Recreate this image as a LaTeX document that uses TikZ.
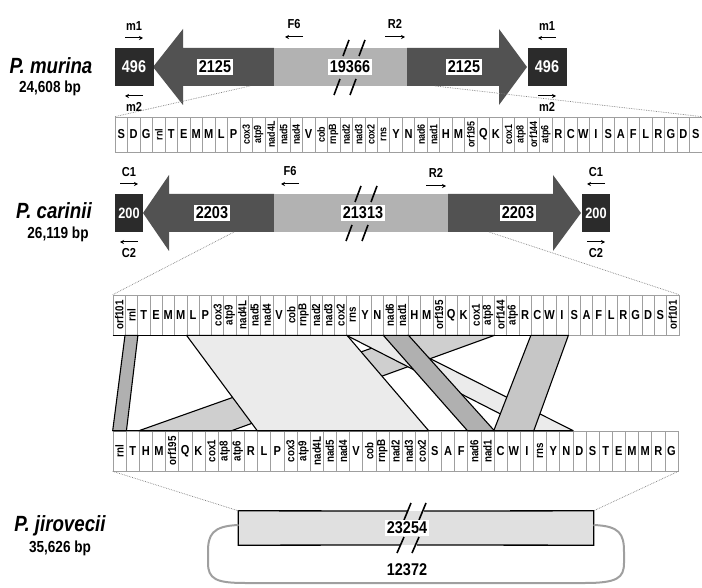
\documentclass[tikz,border=0pt]{standalone}
\usepackage{fontspec}
\setmainfont{Liberation Sans}[FakeStretch=0.85]
\usepackage{graphicx}
\usetikzlibrary{arrows.meta,calc,positioning}

\def\genrot{11}
\def\genelab#1{\expandafter\genelabx#1\relax\genend}
\def\genelabx#1#2\genend{\ifx\relax#2#1\else\rotatebox{90}{\fontsize{\genrot}{\genrot}\selectfont#1#2}\fi}

\tikzset{
  cellbox/.style={draw=gray!75,line width=0.6pt,fill=white,inner sep=0pt,font=\bfseries\fontsize{13}{13}\selectfont},
  endbox/.style={fill=black!83,text=white,inner sep=0pt,font=\bfseries\fontsize{17}{17}\selectfont},
  darkarm/.style={fill=black!68},
  lightmid/.style={fill=black!30},
  numlab/.style={fill=white,inner sep=1.5pt,font=\bfseries\fontsize{17}{17}\selectfont},
  primer/.style={inner sep=0pt,font=\bfseries\fontsize{13}{13}\selectfont},
  primarrow/.style={line width=1pt,-{Stealth[length=4pt,width=4pt]}},
  brk/.style={line width=1.6pt},
  zoomline/.style={densely dotted,gray,line width=0.7pt},
  rib/.style={draw=black,line width=1.1pt,line join=round},
  species/.style={inner sep=0pt,font=\bfseries\itshape\fontsize{22}{22}\selectfont},
  bplab/.style={inner sep=0pt,font=\bfseries\fontsize{16}{16}\selectfont},
  loopline/.style={draw=gray!75,line width=2pt}
}

\begin{document}
\begin{tikzpicture}[x=1pt,y=-1pt]
\useasboundingbox (0,0) rectangle (702,588);

\node[species] (pmname) at (51,66) {P. murina};
\node[bplab] (pmbp) at (50,88) {24,608 bp};
\node[species] (pcname) at (54,211) {P. carinii};
\node[bplab] (pcbp) at (58,234) {26,119 bp};
\node[species] (pjname) at (60,526) {P. jirovecii};
\node[bplab] (pjbp) at (60,548) {35,626 bp};

\fill[darkarm] (153,67) -- (183,29) -- (183,48) -- (274,48) -- (274,86) -- (183,86) -- (183,105) -- cycle;
\fill[lightmid] (274,48) rectangle (407,86);
\fill[darkarm] (407,48) -- (499,48) -- (499,29) -- (527,67) -- (499,105) -- (499,86) -- (407,86) -- cycle;
\node[endbox,minimum width=39pt,minimum height=38pt] (pmL) at (134,67) {496};
\node[endbox,minimum width=39pt,minimum height=38pt] (pmR) at (547,67) {496};
\draw[brk] (343,56) -- (349,40) (359,56) -- (365,40);
\draw[brk] (334,95) -- (340,79) (350,95) -- (356,79);
\node[numlab] (pmA) at (215,67) {2125};
\node[numlab] (pmB) at (350,67) {19366};
\node[numlab] (pmC) at (464,67) {2125};
\node[primer] (pmm1a) at (134,26) {m1};
\node[primer] (pmm2a) at (134,107) {m2};
\node[primer] (pmm1b) at (547,26) {m1};
\node[primer] (pmm2b) at (547,107) {m2};
\node[primer] (pmF6) at (294,24) {F6};
\node[primer] (pmR2) at (395,24) {R2};
\draw[primarrow] ($(pmm1a)+(-9,12)$) -- ++(18,0);
\draw[primarrow] ($(pmm2a)+(9,-11)$) -- ++(-18,0);
\draw[primarrow] ($(pmm1b)+(9,12)$) -- ++(-18,0);
\draw[primarrow] ($(pmm2b)+(-9,-11)$) -- ++(18,0);
\draw[primarrow] ($(pmF6)+(9,13)$) -- ++(-18,0);
\draw[primarrow] ($(pmR2)+(-10,13)$) -- ++(20,0);

\fill[darkarm] (143,213) -- (169,175) -- (169,194) -- (274,194) -- (274,232) -- (169,232) -- (169,251) -- cycle;
\fill[lightmid] (274,194) rectangle (448,232);
\fill[darkarm] (448,194) -- (553,194) -- (553,175) -- (581,213) -- (553,251) -- (553,232) -- (448,232) -- cycle;
\node[endbox,minimum width=28pt,minimum height=38pt,font=\bfseries\fontsize{15}{15}\selectfont] (pcL) at (129,213) {200};
\node[endbox,minimum width=28pt,minimum height=38pt,font=\bfseries\fontsize{15}{15}\selectfont] (pcR) at (596,213) {200};
\draw[brk] (355,202) -- (361,186) (371,202) -- (377,186);
\draw[brk] (346,241) -- (352,225) (362,241) -- (368,225);
\node[numlab] (pcA) at (212,213) {2203};
\node[numlab] (pcB) at (363,213) {21313};
\node[numlab] (pcC) at (518,213) {2203};
\node[primer] (pcc1a) at (129,172) {C1};
\node[primer] (pcc2a) at (129,253) {C2};
\node[primer] (pcc1b) at (596,172) {C1};
\node[primer] (pcc2b) at (596,253) {C2};
\node[primer] (pcF6) at (290,171) {F6};
\node[primer] (pcR2) at (436,173) {R2};
\draw[primarrow] ($(pcc1a)+(-9,12)$) -- ++(18,0);
\draw[primarrow] ($(pcc2a)+(9,-11)$) -- ++(-18,0);
\draw[primarrow] ($(pcc1b)+(9,12)$) -- ++(-18,0);
\draw[primarrow] ($(pcc2b)+(-9,-11)$) -- ++(18,0);
\draw[primarrow] ($(pcF6)+(9,13)$) -- ++(-18,0);
\draw[primarrow] ($(pcR2)+(-10,13)$) -- ++(20,0);

\def\genrot{10.5}
\foreach \g [count=\i] in {S,D,G,rnl,T,E,M,M,L,P,cox3,atp9,nad4L,nad5,nad4,V,cob,rnpB,nad2,nad3,cox2,rns,Y,N,nad6,nad1,H,M,orf195,Q,K,cox1,atp8,orf144,atp6,R,C,W,I,S,A,F,L,R,G,D,S}
  \node[cellbox,minimum width=12.49pt,minimum height=35pt] (pm\i) at ({115+(\i-0.5)*12.49},134.5) {\genelab{\g}};
\def\genrot{11.5}
\foreach \g [count=\i] in {orf101,rnl,T,E,M,M,L,P,cox3,atp9,nad4L,nad5,nad4,V,cob,rnpB,nad2,nad3,cox2,rns,Y,N,nad6,nad1,H,M,orf195,Q,K,cox1,atp8,orf144,atp6,R,C,W,I,S,A,F,L,R,G,D,S,orf101}
  \node[cellbox,minimum width=12.3pt,minimum height=40pt] (pc\i) at ({113+(\i-0.5)*12.3},315) {\genelab{\g}};
\foreach \g [count=\i] in {rnl,T,H,M,orf195,Q,K,cox1,atp8,atp6,R,L,P,cox3,atp9,nad4L,nad5,nad4,V,cob,rnpB,nad2,nad3,cox2,S,A,F,nad6,nad1,C,W,I,rns,Y,N,D,S,T,E,M,M,R,G}
  \node[cellbox,minimum width=13.14pt,minimum height=40pt] (pj\i) at ({113+(\i-0.5)*13.14},451) {\genelab{\g}};

\coordinate (pmz1) at (250,86);
\coordinate (pmz2) at (435,86);
\coordinate (pcz1) at (234,232);
\coordinate (pcz2) at (489,232);
\draw[zoomline] (pmz1) -- (pm1.north west);
\draw[zoomline] (pmz2) -- (pm47.north east);
\draw[zoomline] (pcz1) -- (pc1.north west);
\draw[zoomline] (pcz2) -- (pc46.north east);

\draw[rib,fill=gray!38] (pc25.south west) -- (pc31.south east) -- (pj9.north east) -- (pj3.north west) -- cycle;
\draw[rib,fill=gray!16] (pc7.south west) -- (pc19.south east) -- (pj24.north east) -- (pj12.north west) -- cycle;
\draw[rib,fill=gray!16] (pc20.south west) -- (pc22.south east) -- (pj35.north east) -- (pj33.north west) -- cycle;
\draw[rib,fill=gray!62] (pc23.south west) -- (pc24.south east) -- (pj29.north east) -- (pj28.north west) -- cycle;
\draw[rib,fill=gray!45] (pc35.south west) -- (pc37.south east) -- (pj32.north east) -- (pj30.north west) -- cycle;
\draw[rib,fill=gray!62] (pc2.south west) -- (pc2.south east) -- (pj1.north east) -- (pj1.north west) -- cycle;
\draw[line width=1.3pt] (pc1.south west) -- (pc37.south east);
\draw[line width=1.3pt] (pj1.north west) -- (pj35.north east);

\node[fill=gray!24,minimum width=355pt,minimum height=34pt,inner sep=0pt] (pjbox) at (416,528) {};
\draw[line width=1.3pt] (407,511) -- (pjbox.north west) -- (pjbox.south west) -- (400,545);
\draw[line width=1.3pt] (424,511) -- (pjbox.north east) -- (pjbox.south east) -- (417,545);
\draw[brk] (404,520) -- (411,503) (419,520) -- (426,503);
\draw[brk] (397,553) -- (404,537) (412,553) -- (419,537);
\node[numlab] (pjA) at (407,528) {23254};
\node[inner sep=1pt,font=\bfseries\fontsize{17}{17}\selectfont] (pjB) at (407,570) {12372};
\draw[zoomline] (pj1.south west) -- (pjbox.north west);
\draw[zoomline] (pj43.south east) -- (pjbox.north east);
\coordinate (lpa) at (238.5,525);
\coordinate (lpb) at (593.5,525);
\draw[loopline] (lpa) .. controls (212,526) and (208,535) .. (208,552) -- (208,563) .. controls (208,579) and (216,583) .. (245,583) -- (585,583) .. controls (617,583) and (624,578) .. (624,563) -- (624,552) .. controls (624,534) and (620,526) .. (lpb);
\end{tikzpicture}
\end{document}
